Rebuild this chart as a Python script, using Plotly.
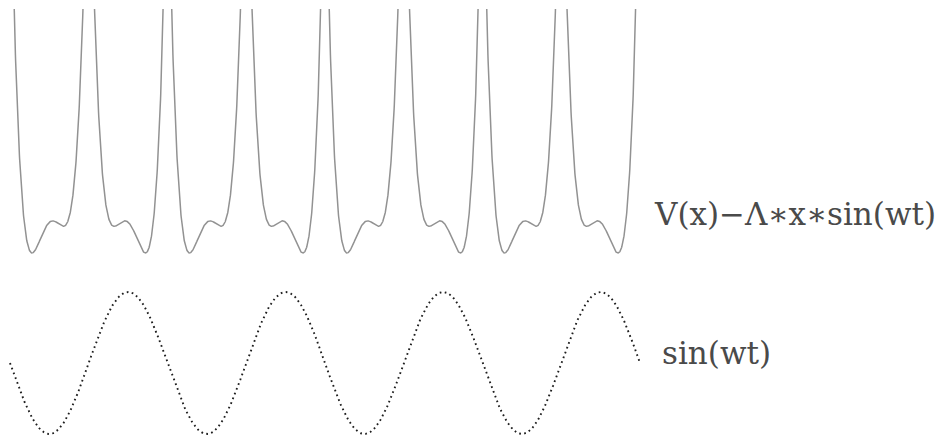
import numpy as np
import plotly.graph_objects as go

# ---- data / parameters ----
t_start_pi = 1.0          # drive phase at left end (in units of pi)
t_end_pi = 9.0            # drive phase at right end (in units of pi)
well_phase_pi = [1.5, 2.5, 3.5, 4.5, 5.5, 6.5, 7.5, 8.5]   # snapshots at drive extrema
lam = 0.2                 # tilt amplitude Lambda
well_halfwidth_u = 2.4    # sampled half-range of x for each well
x_to_t = 0.634            # horizontal size of one x unit in time units
top_label = "V(x)\u2212\u039b\u2217x\u2217sin(wt)"
bottom_label = "sin(wt)"

W, H = 946, 439

fig = go.Figure()

# potential snapshots
u = np.linspace(-well_halfwidth_u, well_halfwidth_u, 401)
for ph in well_phase_pi:
    tc = ph * np.pi
    s = np.sin(tc)
    f = u**4 / 4 - u**2 / 2 - lam * u * s
    fig.add_trace(go.Scatter(x=tc + x_to_t * u, y=f, mode="lines",
                             line=dict(color="#929292", width=1.5),
                             xaxis="x", yaxis="y", showlegend=False,
                             hoverinfo="skip"))

# drive
t = np.linspace(t_start_pi * np.pi, t_end_pi * np.pi, 800)
fig.add_trace(go.Scatter(x=t, y=np.sin(t), mode="lines",
                         line=dict(color="#1e1e1e", width=1.9, dash="1.7px,3.4px"),
                         xaxis="x", yaxis="y2", showlegend=False,
                         hoverinfo="skip"))

px_per_t = 630 / (8 * np.pi)
t0 = t_start_pi * np.pi
xr = [t0 - 10 / px_per_t, t0 + (W - 10) / px_per_t]

f_deep = -0.459
vs = 67.0
top_rng = [f_deep - (270 - 253) / vs, f_deep + (253 - 9) / vs]
bot_rng = [-(439 - 363) / 71.0, (363 - 280) / 71.0]

ax_off = dict(showgrid=False, zeroline=False, showticklabels=False,
              showline=False, ticks="", fixedrange=True)

fig.update_layout(
    width=W, height=H,
    margin=dict(l=0, r=0, t=0, b=0),
    paper_bgcolor="white", plot_bgcolor="white",
    xaxis=dict(range=xr, domain=[0, 1], anchor="y2", **ax_off),
    yaxis=dict(range=top_rng, domain=[1 - 270 / H, 1 - 9 / H], anchor="x", **ax_off),
    yaxis2=dict(range=bot_rng, domain=[0, 1 - 280 / H], anchor="x", **ax_off),
    annotations=[
        dict(text=top_label, xref="paper", yref="paper", x=652 / W, y=1 - 214 / H,
             xanchor="left", yanchor="middle", showarrow=False,
             font=dict(family="DejaVu Serif", size=31, color="#4a4a4a")),
        dict(text=bottom_label, xref="paper", yref="paper", x=660 / W, y=1 - 353 / H,
             xanchor="left", yanchor="middle", showarrow=False,
             font=dict(family="DejaVu Serif", size=31, color="#4a4a4a")),
    ],
)

fig.write_html("out.html", config={"displayModeBar": False},
               post_script="document.body.style.margin='0';document.body.style.overflow='hidden';")
